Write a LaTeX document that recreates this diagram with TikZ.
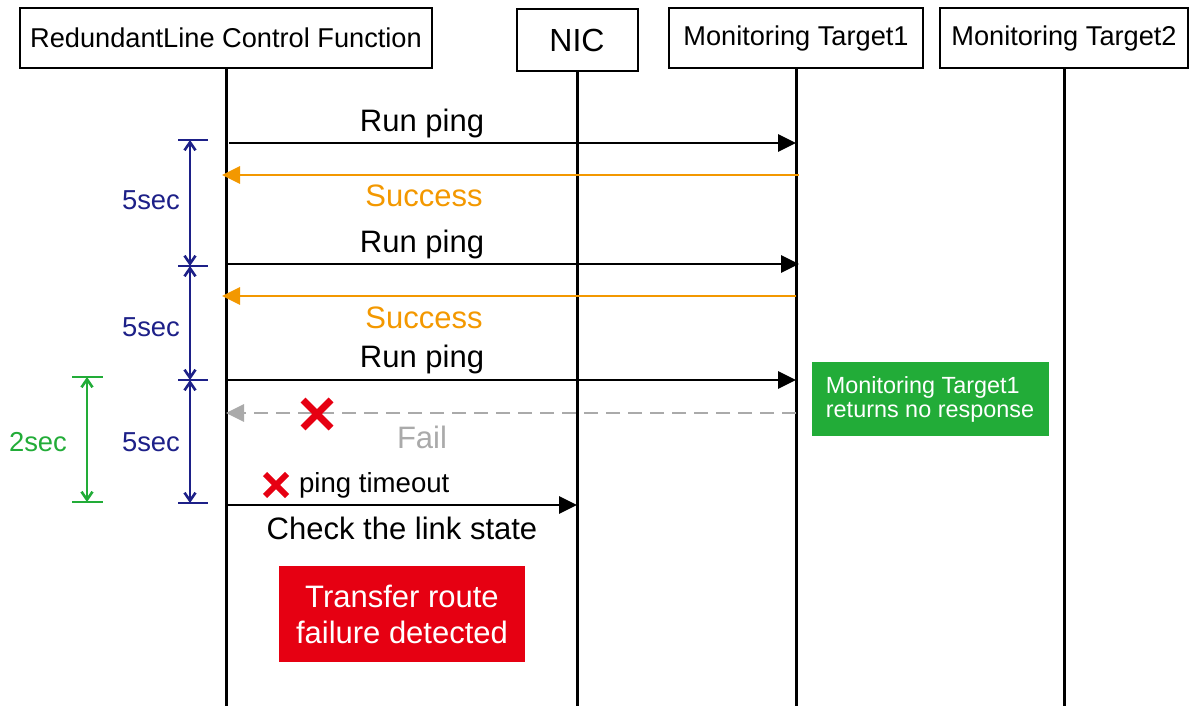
\documentclass[tikz,border=0pt]{standalone}
\usepackage{fontspec}
\setmainfont{Liberation Sans}
\usetikzlibrary{arrows.meta}

\definecolor{okorange}{HTML}{F39800}
\definecolor{dimblue}{HTML}{1D2088}
\definecolor{dimgreen}{HTML}{22AC38}
\definecolor{alertred}{HTML}{E60012}
\definecolor{failgray}{HTML}{AAAAAA}

\begin{document}
\begin{tikzpicture}[x=0.5pt,y=-0.5pt,
  head/.style={draw,line width=1pt,inner sep=0pt,minimum height=30pt,font=\fontsize{13.6}{16}\selectfont},
  life/.style={line width=1.5pt},
  msg/.style={line width=1.4pt,-{Triangle[length=9pt,width=8.5pt]}},
  lbl/.style={font=\fontsize{15.5}{18}\selectfont},
  dim/.style={line width=1.3pt,{Straight Barb[length=4pt,width=5.5pt]}-{Straight Barb[length=4pt,width=5.5pt]}},
  tick/.style={line width=1.4pt},
  cross/.style={alertred,line width=3.5pt}]
\useasboundingbox (0,0) rectangle (1190,706);
\coordinate (bottom) at (0,706);
% lifelines
\node[head,minimum width=206pt] (rlc) at (226,38) {RedundantLine Control Function};
\node[head,minimum width=60.5pt,minimum height=31pt,font=\fontsize{16}{18}\selectfont] (nic) at (577,40) {NIC};
\node[head,minimum width=127pt] (mt1) at (796,38) {Monitoring Target1};
\node[head,minimum width=124pt] (mt2) at (1064,38) {Monitoring Target2};
\draw[life] (rlc.south) -- (rlc.south |- bottom);
\draw[life] (nic.south) -- (nic.south |- bottom);
\draw[life] (mt1.south) -- (mt1.south |- bottom);
\draw[life] (mt2.south) -- (mt2.south |- bottom);
% messages
\draw[msg] ([xshift=1.5pt]rlc.south |- 0,143) -- (mt1.south |- 0,143);
\node[lbl] (ping1) at (422,123) {Run ping};
\draw[msg,okorange] ([xshift=1.5pt]mt1.south |- 0,175) -- ([xshift=-2pt]rlc.south |- 0,175);
\node[lbl,okorange] (ok1) at (424,196) {Success};
\draw[msg] (rlc.south |- 0,264) -- ([xshift=1.5pt]mt1.south |- 0,264);
\node[lbl] (ping2) at (422,244) {Run ping};
\draw[msg,okorange] (mt1.south |- 0,296) -- ([xshift=-2pt]rlc.south |- 0,296);
\node[lbl,okorange] (ok2) at (424,318) {Success};
\draw[msg] (rlc.south |- 0,380) -- (mt1.south |- 0,380);
\node[lbl] (ping3) at (422,359) {Run ping};
\draw[msg,failgray,dash pattern=on 7pt off 4pt] (mt1.south |- 0,413) -- (rlc.south |- 0,413);
\node[lbl,failgray] (fail) at (422,437) {Fail};
\draw[cross] (303,400) -- (331,428) (331,400) -- (303,428);
\draw[cross,line width=3pt] (265,474) -- (287,496) (287,474) -- (265,496);
\node[anchor=west,font=\fontsize{13.8}{16}\selectfont] (tmo) at (292,485) {ping timeout};
\draw[msg] (rlc.south |- 0,505) -- (nic.south |- 0,505);
\node[lbl] (link) at (402,528) {Check the link state};
% result boxes
\node[fill=alertred,text=white,align=center,minimum width=123pt,minimum height=48pt,font=\fontsize{15.5}{18}\selectfont] (detect) at (402,614) {Transfer route\\failure detected};
\node[fill=dimgreen,text=white,align=left,minimum width=118.5pt,minimum height=37pt,font=\fontsize{11.7}{12}\selectfont] (noresp) at (930,399) {Monitoring Target1\\returns no response};
% 5sec intervals
\coordinate (t1) at (190,140);
\coordinate (t2) at (190,266);
\coordinate (t3) at (190,380);
\coordinate (t4) at (190,503);
\foreach \t in {t1,t2,t3,t4}
  \draw[tick,dimblue] ([xshift=-6pt]\t) -- ([xshift=9pt]\t);
\draw[dim,dimblue] (t1) -- (t2);
\draw[dim,dimblue] (t2) -- (t3);
\draw[dim,dimblue] (t3) -- (t4);
\node[dimblue,font=\fontsize{13.7}{16}\selectfont] (d1) at (151,200) {5sec};
\node[dimblue,font=\fontsize{13.7}{16}\selectfont] (d2) at (151,327) {5sec};
\node[dimblue,font=\fontsize{13.7}{16}\selectfont] (d3) at (151,442) {5sec};
% 2sec timeout
\coordinate (g1) at (87,377);
\coordinate (g2) at (87,502);
\draw[tick,dimgreen] ([xshift=-7.5pt]g1) -- ([xshift=8pt]g1);
\draw[tick,dimgreen] ([xshift=-7.5pt]g2) -- ([xshift=8pt]g2);
\draw[dim,dimgreen] (g1) -- (g2);
\node[dimgreen,font=\fontsize{13.7}{16}\selectfont] (d4) at (38,442) {2sec};
\end{tikzpicture}
\end{document}
